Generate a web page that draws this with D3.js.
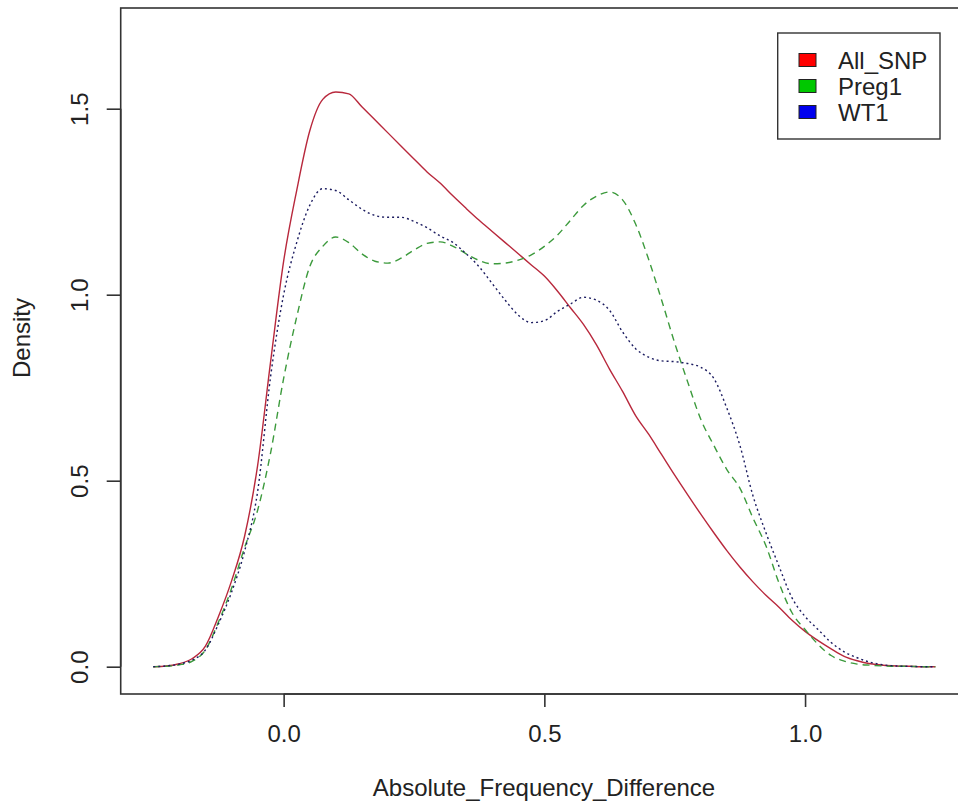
<!DOCTYPE html>
<html>
<head>
<meta charset="utf-8">
<script src="https://cdn.jsdelivr.net/npm/d3@7"></script>
<style>
body{margin:0;background:#fff;}
svg{display:block;font-family:"Liberation Sans",Arial,sans-serif;}
</style>
</head>
<body>
<div class="graph"></div>
<script>
// density curves, on a shared x grid (step 0.025)
var xGrid = d3.range(61).map(function(i){ return +(-0.25 + i*0.025).toFixed(3); });

var allSnp = [0,0.002,0.008,0.022,0.055,0.135,0.23,0.35,0.54,0.82,
  1.09,1.28,1.44,1.525,1.545,1.54,1.505,1.47,1.435,1.40,
  1.365,1.33,1.30,1.265,1.232,1.20,1.17,1.14,1.11,1.08,
  1.05,1.01,0.965,0.92,0.865,0.80,0.74,0.675,0.625,0.57,
  0.515,0.462,0.41,0.36,0.312,0.268,0.228,0.192,0.16,0.125,
  0.095,0.07,0.048,0.028,0.016,0.008,0.004,0.002,0.001,0,0];

var preg1 = [0,0.001,0.005,0.015,0.045,0.12,0.21,0.32,0.42,0.575,
  0.775,0.94,1.075,1.13,1.155,1.14,1.11,1.09,1.085,1.098,
  1.12,1.138,1.142,1.13,1.11,1.092,1.083,1.085,1.093,1.107,
  1.13,1.16,1.2,1.24,1.265,1.276,1.255,1.19,1.095,0.985,
  0.87,0.765,0.665,0.595,0.53,0.48,0.40,0.325,0.225,0.145,
  0.10,0.06,0.03,0.015,0.007,0.004,0.002,0.001,0.001,0,0];

var wt1 = [0,0.002,0.007,0.018,0.045,0.115,0.2,0.31,0.47,0.78,
  1.0,1.14,1.24,1.285,1.28,1.255,1.23,1.213,1.208,1.208,
  1.197,1.18,1.158,1.14,1.11,1.075,1.03,0.985,0.945,0.925,
  0.93,0.955,0.975,0.993,0.985,0.958,0.9,0.855,0.832,0.822,
  0.82,0.815,0.805,0.775,0.695,0.595,0.46,0.36,0.27,0.185,
  0.135,0.1,0.065,0.04,0.024,0.012,0.005,0.002,0.001,0,0];

var seriesNames = ["All_SNP","Preg1","WT1"];
var xTicks = [0, 0.5, 1.0];
var yTicks = [0, 0.5, 1.0, 1.5];

var W = 958, H = 803;
var plotL = 120.7, plotR = 968, plotT = 8, plotB = 694;

var svg = d3.select(".graph").append("svg").attr("width", W).attr("height", H);

var x = d3.scaleLinear().domain([-0.3125, 1.3125]).range([plotL, plotR]);
var y = d3.scaleLinear().domain([-0.0734, 1.7707]).range([plotB, plotT]);

var lineColours = ["#b8283c", "#3c9a3c", "#1c1c60"];
var legendColours = ["#ff0000", "#00c800", "#0000ee"];
var dashes = [null, "7,5", "2,3"];
var curves = [allSnp, preg1, wt1];

var line = d3.line()
  .x(function(d){ return x(d[0]); })
  .y(function(d){ return y(d[1]); })
  .curve(d3.curveMonotoneX);

curves.forEach(function(vals, k){
  svg.append("path")
    .datum(xGrid.map(function(xv, i){ return [xv, vals[i]]; }))
    .attr("d", line)
    .attr("fill", "none")
    .attr("stroke", lineColours[k])
    .attr("stroke-width", 1.4)
    .attr("stroke-dasharray", dashes[k]);
});

// box
svg.append("rect").attr("x", plotL).attr("y", plotT).attr("width", plotR-plotL).attr("height", plotB-plotT)
  .attr("fill", "none").attr("stroke", "#333").attr("stroke-width", 1.6);

// x axis
var xAxis = svg.append("g").attr("transform", "translate(0," + plotB + ")")
  .call(d3.axisBottom(x).tickValues(xTicks).tickSize(13).tickFormat(d3.format(".1f")));
xAxis.select(".domain").attr("stroke", "#333").attr("stroke-width", 1.6)
  .attr("d", "M" + x(xTicks[0]) + ",0H" + x(xTicks[xTicks.length-1]));
xAxis.selectAll(".tick line").attr("stroke", "#333").attr("stroke-width", 1.6);
xAxis.selectAll(".tick text").attr("font-size", 24).attr("fill", "#222")
  .attr("font-family", "Liberation Sans, Arial, sans-serif").attr("dy", null).attr("y", 48);

// y axis
var yAxis = svg.append("g").attr("transform", "translate(" + plotL + ",0)")
  .call(d3.axisLeft(y).tickValues(yTicks).tickSize(14).tickFormat(d3.format(".1f")));
yAxis.select(".domain").attr("stroke", "#333").attr("stroke-width", 1.6)
  .attr("d", "M0," + y(yTicks[0]) + "V" + y(yTicks[yTicks.length-1]));
yAxis.selectAll(".tick line").attr("stroke", "#333").attr("stroke-width", 1.6);
yAxis.selectAll(".tick text").remove();
yAxis.selectAll(".tick").append("text")
  .attr("transform", "translate(-33,0) rotate(-90)")
  .attr("text-anchor", "middle")
  .attr("font-size", 24).attr("fill", "#222")
  .attr("font-family", "Liberation Sans, Arial, sans-serif")
  .text(function(d){ return d3.format(".1f")(d); });

// axis titles
svg.append("text").attr("x", 544).attr("y", 796).attr("text-anchor", "middle")
  .attr("font-size", 24).attr("fill", "#222").text("Absolute_Frequency_Difference");
svg.append("text").attr("transform", "translate(30,338) rotate(-90)").attr("text-anchor", "middle")
  .attr("font-size", 24).attr("fill", "#222").text("Density");

// legend
var lg = svg.append("g");
lg.append("rect").attr("x", 777.7).attr("y", 33).attr("width", 162.3).attr("height", 106)
  .attr("fill", "#fff").attr("stroke", "#333").attr("stroke-width", 1.4);
seriesNames.forEach(function(name, k){
  var cy = 60.5 + k*26;
  lg.append("rect").attr("x", 799).attr("y", cy-7).attr("width", 17).attr("height", 13)
    .attr("fill", legendColours[k]).attr("stroke", "#222").attr("stroke-width", 1);
  lg.append("text").attr("x", 838).attr("y", cy + 8).attr("font-size", 24).attr("fill", "#222").text(name);
});
</script>
</body>
</html>
